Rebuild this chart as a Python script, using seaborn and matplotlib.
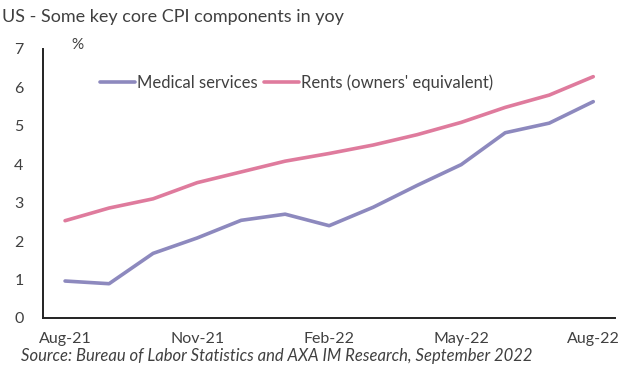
import matplotlib
matplotlib.use("Agg")
import matplotlib.pyplot as plt
import seaborn as sns
import pandas as pd
from matplotlib.ticker import FixedLocator, NullFormatter

months = ["Aug-21", "Sep-21", "Oct-21", "Nov-21", "Dec-21", "Jan-22", "Feb-22",
          "Mar-22", "Apr-22", "May-22", "Jun-22", "Jul-22", "Aug-22"]
medical = [0.96, 0.89, 1.68, 2.08, 2.54, 2.70, 2.40, 2.88, 3.45, 3.99, 4.82, 5.07, 5.63]
rents = [2.53, 2.86, 3.10, 3.52, 3.80, 4.08, 4.28, 4.50, 4.77, 5.09, 5.48, 5.80, 6.28]
tick_labels = ["Aug-21", "Nov-21", "Feb-22", "May-22", "Aug-22"]

series_names = ["Medical services", "Rents (owners' equivalent)"]
colors = ["#8d89be", "#df7b9d"]

df = pd.DataFrame({
    "idx": list(range(len(months))) * 2,
    "value": medical + rents,
    "series": [series_names[0]] * len(months) + [series_names[1]] * len(months),
})

sns.set_style("white")
plt.rcParams["font.family"] = ["Lato", "DejaVu Sans"]

fig = plt.figure(figsize=(6.24, 3.74), dpi=100)
ax = fig.add_axes([0.069, 0.150, 0.917, 0.719])

sns.lineplot(data=df, x="idx", y="value", hue="series", palette=colors,
             linewidth=2.6, ax=ax)

ax.set_xlim(-0.5, len(months) - 0.5)
ax.set_ylim(0, 7)
ax.set_xlabel("")
ax.set_ylabel("")

major_pos = [months.index(m) for m in tick_labels]
ax.set_xticks(major_pos)
ax.set_xticklabels(tick_labels, fontsize=11.5, color="#404040")
ax.xaxis.set_minor_locator(FixedLocator([i + 0.5 for i in range(len(months))]))
ax.xaxis.set_minor_formatter(NullFormatter())
ax.tick_params(axis="x", which="major", length=0, pad=10)
ax.tick_params(axis="x", which="minor", length=4, direction="in", width=1.2, color="#222222")

ax.set_yticks(range(0, 8))
ax.set_yticklabels([str(v) for v in range(0, 8)], fontsize=11.5, color="#404040")
ax.tick_params(axis="y", length=4, direction="in", width=1.2, color="#222222", pad=14)

for s in ["top", "right"]:
    ax.spines[s].set_visible(False)
for s in ["left", "bottom"]:
    ax.spines[s].set_color("#222222")
    ax.spines[s].set_linewidth(1.4)

leg = ax.legend(loc="center left", bbox_to_anchor=(0.1, 0.874), ncol=2, frameon=False,
                fontsize=12, handlelength=2.1, handletextpad=0.1, columnspacing=0.4,
                borderaxespad=0, borderpad=0)
for t in leg.get_texts():
    t.set_color("#404040")

fig.text(0.003, 0.955, "US - Some key core CPI components in yoy", fontsize=13,
         color="#404040", ha="left", va="center")
fig.text(0.115, 0.88, "%", fontsize=11, color="#404040", ha="left", va="center")
fig.text(0.034, 0.048, "Source: Bureau of Labor Statistics and AXA IM Research, September 2022",
         fontsize=12, style="italic", color="#404040", ha="left", va="center")

fig.savefig("out.png", dpi=100, facecolor="white")
